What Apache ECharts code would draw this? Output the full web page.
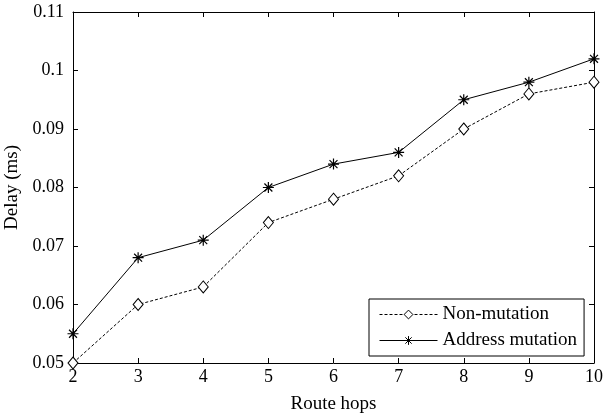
<!DOCTYPE html>
<html><head><meta charset="utf-8">
<script src="https://cdn.jsdelivr.net/npm/echarts@6/dist/echarts.min.js"></script>
<style>html,body{margin:0;padding:0;background:#fff}#c{width:605px;height:417px}</style>
</head><body><div id="c"></div>
<script>
const hops = [2, 3, 4, 5, 6, 7, 8, 9, 10];
const nonMutation = [0.050, 0.060, 0.063, 0.074, 0.078, 0.082, 0.090, 0.096, 0.098];
const addressMutation = [0.055, 0.068, 0.071, 0.080, 0.084, 0.086, 0.095, 0.098, 0.102];

const font = 'Liberation Serif, Times New Roman, serif';
const star = 'path://M0,-5L0,5M-5,0L5,0M-3.6,-3.6L3.6,3.6M-3.6,3.6L3.6,-3.6';
const chart = echarts.init(document.getElementById('c'));
const axLine = {show: true, lineStyle: {color: '#000', width: 1}};
const tick = {show: true, inside: true, length: 5, lineStyle: {color: '#000'}};
chart.setOption({
  animation: false,
  grid: {left: 73, right: 11, top: 12, bottom: 54, outerBoundsMode: 'none', containLabel: false},
  xAxis: [{
    type: 'value', min: 2, max: 10, interval: 1,
    name: 'Route hops', nameLocation: 'middle', nameGap: 32,
    nameTextStyle: {fontFamily: font, fontSize: 19, color: '#000'},
    axisLine: axLine, axisTick: tick, splitLine: {show: false},
    axisLabel: {fontFamily: font, fontSize: 18, color: '#000', margin: 5}
  }, {
    type: 'value', min: 2, max: 10, interval: 1, position: 'top',
    axisLine: axLine, axisTick: tick, splitLine: {show: false}, axisLabel: {show: false}
  }],
  yAxis: [{
    type: 'value', min: 0.05, max: 0.11, interval: 0.01,
    name: 'Delay (ms)', nameLocation: 'middle', nameGap: 49,
    nameTextStyle: {fontFamily: font, fontSize: 19, color: '#000'},
    axisLine: axLine, axisTick: tick, splitLine: {show: false},
    axisLabel: {fontFamily: font, fontSize: 18, color: '#000', margin: 9,
      formatter: v => String(+v.toFixed(2))}
  }, {
    type: 'value', min: 0.05, max: 0.11, interval: 0.01, position: 'right',
    axisLine: axLine, axisTick: tick, splitLine: {show: false}, axisLabel: {show: false}
  }],
  legend: {
    left: 369, top: 299, orient: 'vertical',
    backgroundColor: '#fff', borderColor: '#000', borderWidth: 1,
    padding: [6, 7, 6, 10], itemGap: 7, itemWidth: 58, itemHeight: 11,
    textStyle: {fontFamily: font, fontSize: 19, color: '#000', padding: [0, 0, 0, 0]},
    data: [
      {name: 'Non-mutation', lineStyle: {width: 1, type: [3, 2]}, itemStyle: {borderWidth: 1}},
      {name: 'Address mutation', lineStyle: {width: 1}, itemStyle: {borderWidth: 1}}
    ]
  },
  series: [{
    name: 'Non-mutation', type: 'line',
    data: hops.map((h, i) => [h, nonMutation[i]]),
    symbol: 'diamond', symbolSize: [10, 12],
    itemStyle: {color: '#fff', borderColor: '#000', borderWidth: 1},
    lineStyle: {color: '#000', width: 1, type: [3, 2]}
  }, {
    name: 'Address mutation', type: 'line',
    data: hops.map((h, i) => [h, addressMutation[i]]),
    symbol: star, symbolSize: 11,
    itemStyle: {color: 'rgba(0,0,0,0)', borderColor: '#000', borderWidth: 1.2},
    lineStyle: {color: '#000', width: 1, type: 'solid'}
  }]
});
</script></body></html>
